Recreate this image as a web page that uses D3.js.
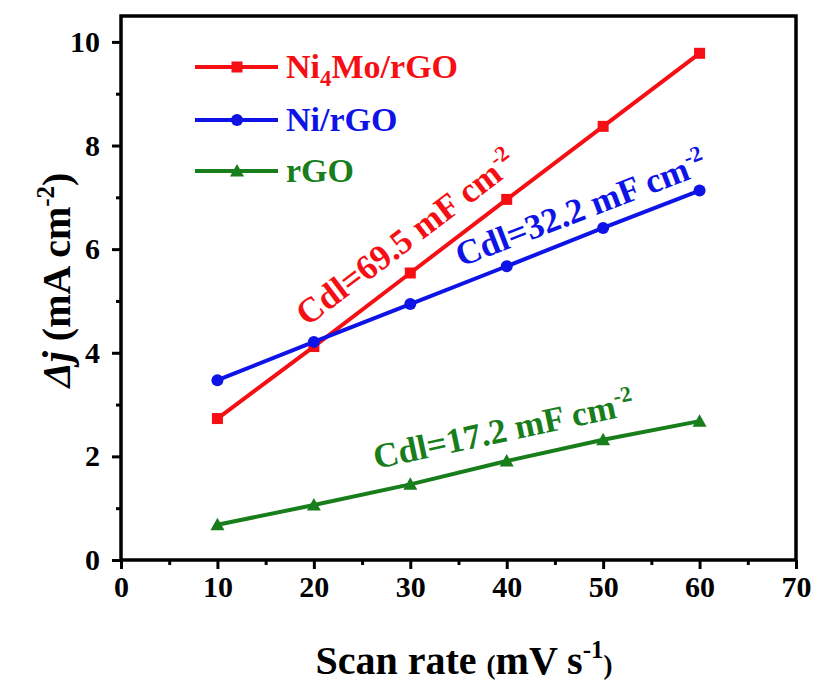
<!DOCTYPE html>
<html>
<head>
<meta charset="utf-8">
<script src="https://cdn.jsdelivr.net/npm/d3@7"></script>
<style>
  body { margin: 0; background: #fff; }
  svg text { font-weight: bold; }
</style>
</head>
<body>
<div id="chart"></div>
<script>
const width = 817, height = 684;
const margin = {top: 16, left: 121, bottom: 124, right: 21};
const serif = "'Liberation Serif', 'Times New Roman', Times, 'Nimbus Roman', 'Nimbus Roman No9 L', Tinos, FreeSerif, 'TeX Gyre Termes', 'DejaVu Serif', serif";

// data
const scanRates = [10, 20, 30, 40, 50, 60];
const ni4moValues = [2.73, 4.12, 5.54, 6.96, 8.37, 9.78];
const niValues = [3.47, 4.21, 4.94, 5.67, 6.41, 7.13];
const rgoValues = [0.68, 1.06, 1.46, 1.91, 2.32, 2.68];
const xTicks = [0, 10, 20, 30, 40, 50, 60, 70];
const yTicks = [0, 2, 4, 6, 8, 10];

const series = [
  {name: "Ni4Mo/rGO", values: ni4moValues, color: "#f50f14", marker: "square", cdl: "69.5"},
  {name: "Ni/rGO", values: niValues, color: "#0f14e6", marker: "circle", cdl: "32.2"},
  {name: "rGO", values: rgoValues, color: "#187d1b", marker: "triangle", cdl: "17.2"}
];

const svg = d3.select("#chart").append("svg")
    .attr("width", width)
    .attr("height", height)
    .style("font-family", serif);

const xScale = d3.scaleLinear()
    .domain([0, 70])
    .range([margin.left, width - margin.right]);

const yScale = d3.scaleLinear()
    .domain([0, 10.5])
    .range([height - margin.bottom, margin.top]);

const plotBottom = height - margin.bottom;

// minor ticks first (short), then major ticks with labels
svg.append("g")
    .attr("transform", "translate(0," + plotBottom + ")")
    .call(d3.axisBottom(xScale).tickValues(d3.range(5, 70, 10)).tickSize(5).tickFormat(""))
    .call(g => g.select(".domain").remove());

svg.append("g")
    .attr("transform", "translate(" + margin.left + ",0)")
    .call(d3.axisLeft(yScale).tickValues(d3.range(1, 10.5, 2)).tickSize(5).tickFormat(""))
    .call(g => g.select(".domain").remove());

const xAxis = svg.append("g")
    .attr("transform", "translate(0," + plotBottom + ")")
    .call(d3.axisBottom(xScale).tickValues(xTicks).tickSize(9).tickPadding(7).tickFormat(d3.format("d")));
xAxis.select(".domain").remove();

const yAxis = svg.append("g")
    .attr("transform", "translate(" + margin.left + ",0)")
    .call(d3.axisLeft(yScale).tickValues(yTicks).tickSize(9).tickPadding(12).tickFormat(d3.format("d")));
yAxis.select(".domain").remove();

svg.selectAll("g").attr("font-family", null);
svg.selectAll(".tick line").attr("stroke", "#000").attr("stroke-width", 3);
svg.selectAll(".tick text")
    .attr("fill", "#000")
    .style("font-size", "30px");

// frame
svg.append("rect")
    .attr("x", xScale(0))
    .attr("y", yScale(10.5))
    .attr("width", xScale(70) - xScale(0))
    .attr("height", yScale(0) - yScale(10.5))
    .attr("fill", "none")
    .attr("stroke", "#000")
    .attr("stroke-width", 3.5);

const line = d3.line()
    .x((d, i) => xScale(scanRates[i]))
    .y(d => yScale(d));

function drawMarker(g, type, x, y, color) {
  if (type === "square") {
    g.append("rect").attr("x", x - 5.5).attr("y", y - 5.5)
        .attr("width", 11).attr("height", 11).attr("fill", color);
  } else if (type === "circle") {
    g.append("circle").attr("cx", x).attr("cy", y).attr("r", 6).attr("fill", color);
  } else {
    g.append("path")
        .attr("d", "M" + x + "," + (y - 7) + "L" + (x + 7) + "," + (y + 5.5) + "L" + (x - 7) + "," + (y + 5.5) + "Z")
        .attr("fill", color);
  }
}

series.forEach(s => {
  const g = svg.append("g");
  g.append("path")
      .datum(s.values)
      .attr("d", line)
      .attr("fill", "none")
      .attr("stroke", s.color)
      .attr("stroke-width", 4);
  s.values.forEach((v, i) => drawMarker(g, s.marker, xScale(scanRates[i]), yScale(v), s.color));
});

// legend
const legendRows = [67, 120, 171];
series.forEach((s, i) => {
  const g = svg.append("g");
  const y = legendRows[i];
  g.append("line")
      .attr("x1", 195).attr("x2", 278)
      .attr("y1", y).attr("y2", y)
      .attr("stroke", s.color).attr("stroke-width", 4);
  drawMarker(g, s.marker, 237, y, s.color);
  const t = g.append("text")
      .attr("x", 286)
      .attr("y", y + 11)
      .attr("fill", s.color)
      .style("font-size", "34px");
  if (s.name === "Ni4Mo/rGO") {
    t.append("tspan").text("Ni");
    t.append("tspan").attr("dy", 8).style("font-size", "23px").text("4");
    t.append("tspan").attr("dy", -8).text("Mo/rGO");
  } else {
    t.text(s.name);
  }
});

// Cdl annotations
const notes = [
  {x: 307, y: 327, angle: -37},
  {x: 461, y: 267, angle: -21},
  {x: 376, y: 469, angle: -12}
];
series.forEach((s, i) => {
  const n = notes[i];
  const t = svg.append("text")
      .attr("transform", "translate(" + n.x + "," + n.y + ") rotate(" + n.angle + ")")
      .attr("fill", s.color)
      .style("font-size", "35px");
  t.append("tspan").text("Cdl=" + s.cdl + " mF cm");
  t.append("tspan").attr("dy", -14).style("font-size", "22px").text("-2");
});

// axis titles
const xTitle = svg.append("text")
    .attr("x", 464)
    .attr("y", 674)
    .attr("text-anchor", "middle")
    .attr("fill", "#000")
    .style("font-size", "40px");
xTitle.append("tspan").text("Scan rate ");
xTitle.append("tspan").style("font-size", "27px").text("(");
xTitle.append("tspan").text("mV s");
xTitle.append("tspan").attr("dy", -16).style("font-size", "25px").text("-1");
xTitle.append("tspan").attr("dy", 16).style("font-size", "27px").text(")");

const yTitle = svg.append("text")
    .attr("transform", "translate(70,280) rotate(-90)")
    .attr("text-anchor", "middle")
    .attr("fill", "#000")
    .style("font-size", "40px");
yTitle.append("tspan").style("font-style", "italic").text("Δj");
yTitle.append("tspan").text(" (mA cm");
yTitle.append("tspan").attr("dy", -16).style("font-size", "25px").text("-2");
yTitle.append("tspan").attr("dy", 16).text(")");
</script>
</body>
</html>
